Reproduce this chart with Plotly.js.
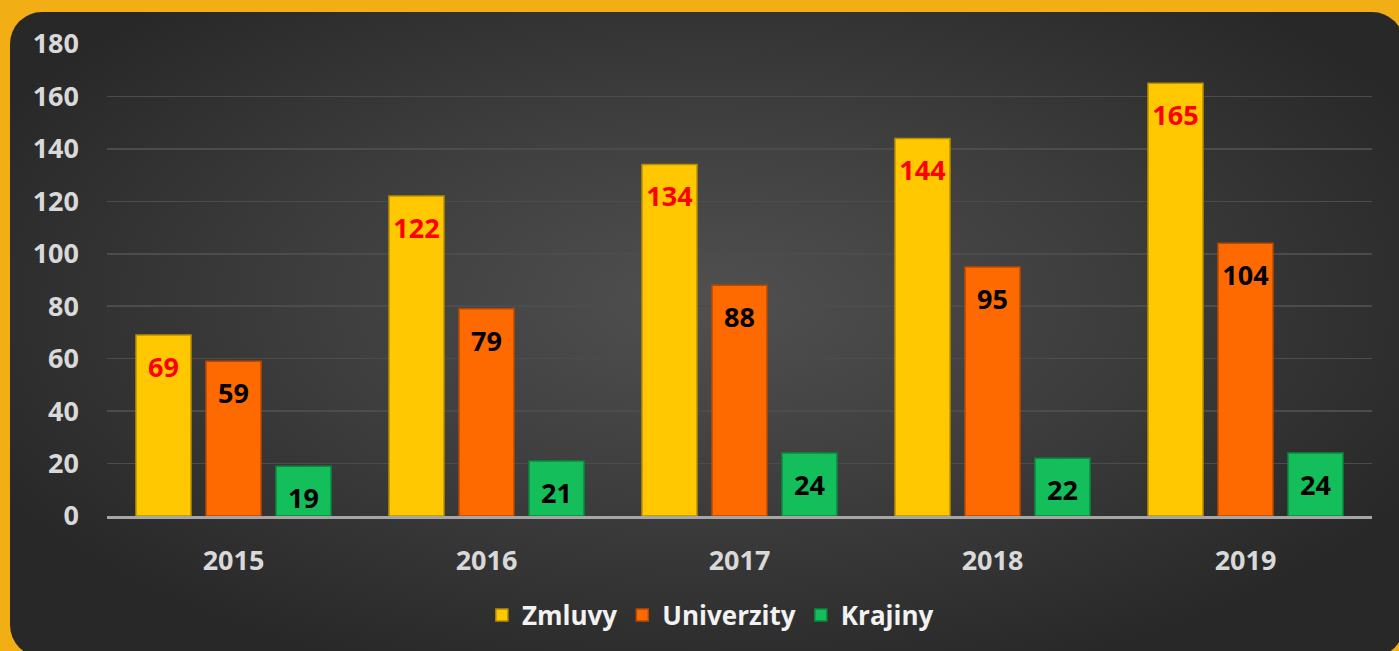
<!DOCTYPE html>
<html><head><meta charset="utf-8">
<script src="https://cdn.plot.ly/plotly-3.0.1.min.js"></script>
<style>
html,body{margin:0;padding:0;width:1399px;height:651px;overflow:hidden;background:#F2AF15;}
#panel{position:absolute;left:10px;top:12px;width:1394px;height:645px;border-radius:32px;
background:radial-gradient(ellipse 58% 62% at 50% 45%, #505050 0%, #3d3d3d 50%, #282828 100%);}
#chart{position:absolute;left:0;top:0;width:1399px;height:651px;}
</style></head><body>
<div id="panel"></div><div id="chart"></div>
<script>
const years = ['2015', '2016', '2017', '2018', '2019'];
const zmluvy = [69, 122, 134, 144, 165];
const univerzity = [59, 79, 88, 95, 104];
const krajiny = [19, 21, 24, 22, 24];
const seriesNames = ['Zmluvy', 'Univerzity', 'Krajiny'];
const yTickVals = [0, 20, 40, 60, 80, 100, 120, 140, 160, 180];

const seriesValues = [zmluvy, univerzity, krajiny];
const fills = ['#FFC800', '#FF6A00', '#14BE5A'];
const edges = ['#B88F00', '#B84A00', '#0A8A3E'];
const labelColors = ['#FF0000', '#000000', '#000000'];
const FONT = 'Open Sans, Noto Sans, sans-serif';

const traces = [];
seriesValues.forEach((vals, i) => {
  traces.push({
    type: 'bar', name: seriesNames[i], x: years, y: vals,
    marker: {color: fills[i], line: {color: edges[i], width: 1.5}},
    hoverinfo: 'x+y+name'
  });
});
seriesValues.forEach((vals, i) => {
  traces.push({
    type: 'scatter', mode: 'markers+text', x: years, y: vals,
    text: vals.map(String), textposition: 'bottom center',
    textfont: {family: FONT, size: 27, color: labelColors[i], weight: 'bold'},
    marker: {size: 33, opacity: 0}, showlegend: false, hoverinfo: 'skip',
    cliponaxis: false
  });
});

const layout = {
  width: 1399, height: 651,
  margin: {l: 107, r: 27, t: 44, b: 135},
  paper_bgcolor: 'rgba(0,0,0,0)', plot_bgcolor: 'rgba(0,0,0,0)',
  barmode: 'group', bargap: 0.17, bargroupgap: 0.214,
  scattermode: 'group', scattergap: 0.17,
  font: {family: FONT, color: '#D9D9D9'},
  xaxis: {
    type: 'category', tickfont: {family: FONT, size: 27, color: '#D9D9D9', weight: 'bold'},
    showgrid: false, zeroline: false, showline: true, linecolor: '#A6A6A6', linewidth: 3,
    ticks: '', ticklabelstandoff: 19, fixedrange: true
  },
  yaxis: {
    range: [0, 180], tickvals: yTickVals, ticktext: yTickVals.map(String),
    tickfont: {family: FONT, size: 27, color: '#D9D9D9', weight: 'bold'},
    showgrid: true, gridcolor: '#4C4C4C', gridwidth: 1.5, zeroline: false, showline: false,
    ticks: '', ticklabelstandoff: 27, fixedrange: true
  },
  legend: {
    orientation: 'h', x: 0.477, xanchor: 'center', y: -0.21, yanchor: 'middle',
    font: {family: FONT, size: 26, color: '#F2F2F2', weight: 'bold'},
    bgcolor: 'rgba(0,0,0,0)', itemwidth: 30
  },
  showlegend: true
};

Plotly.newPlot('chart', traces, layout, {displayModeBar: false, staticPlot: true});
</script>
</body></html>
